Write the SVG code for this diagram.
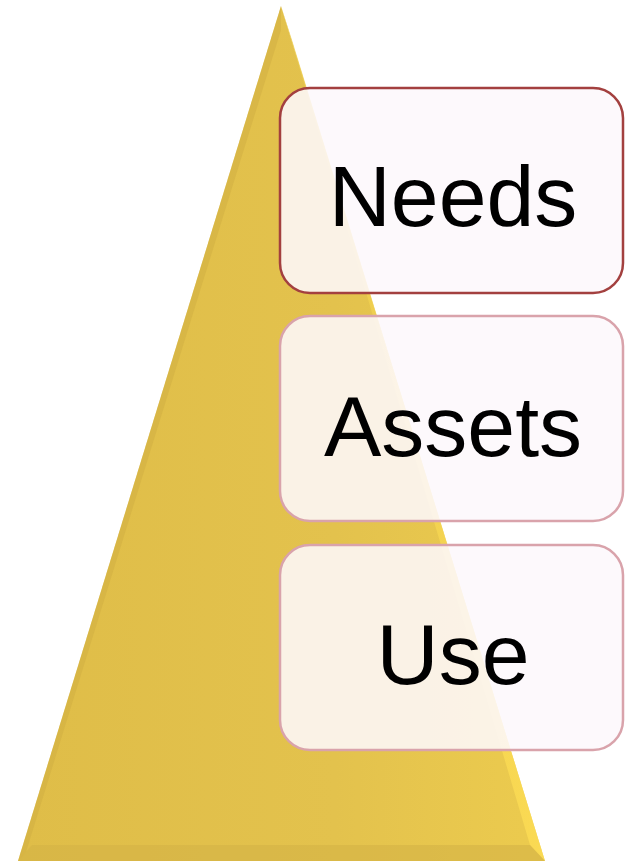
<svg xmlns="http://www.w3.org/2000/svg" width="625" height="861" viewBox="0 0 625 861">
<defs>
<linearGradient id="tri" x1="0" y1="0" x2="1" y2="0">
<stop offset="0" stop-color="#dfbd48"/>
<stop offset="0.6" stop-color="#e3c24d"/>
<stop offset="1" stop-color="#eccb4e"/>
</linearGradient>
<linearGradient id="edge" x1="0" y1="0" x2="1" y2="0">
<stop offset="0" stop-color="#ebcb4d"/>
<stop offset="1" stop-color="#ffdf55"/>
</linearGradient>
<style>
.box{fill:#fdf8fc;fill-opacity:0.88;stroke-width:2.5}
.t{font-family:"Liberation Sans",Arial,sans-serif;font-size:86px;fill:#000;text-anchor:middle}
</style>
</defs>
<g id="triangle">
<polygon points="281,6 18,861 545,861" fill="url(#tri)"/>
<polygon points="281,6 292,40 545,861 530,845" fill="url(#edge)" opacity="0.75"/>
<polygon points="18,861 545,861 530,845 32,845" fill="#d4b246" opacity="0.6"/>
<polygon points="281,6 18,861 26,852 281,30" fill="#d0ae42" opacity="0.5"/>
</g>
<g id="needs">
<rect class="box" x="280" y="88" width="343" height="205" rx="30" stroke="#a3403f"/>
<text class="t" x="453" y="226">Needs</text>
</g>
<g id="assets">
<rect class="box" x="280" y="316" width="343" height="205" rx="30" stroke="#d9a3ab"/>
<text class="t" x="453" y="456">Assets</text>
</g>
<g id="use">
<rect class="box" x="280" y="545" width="343" height="205" rx="30" stroke="#d9a3ab"/>
<text class="t" x="453" y="684">Use</text>
</g>
</svg>
